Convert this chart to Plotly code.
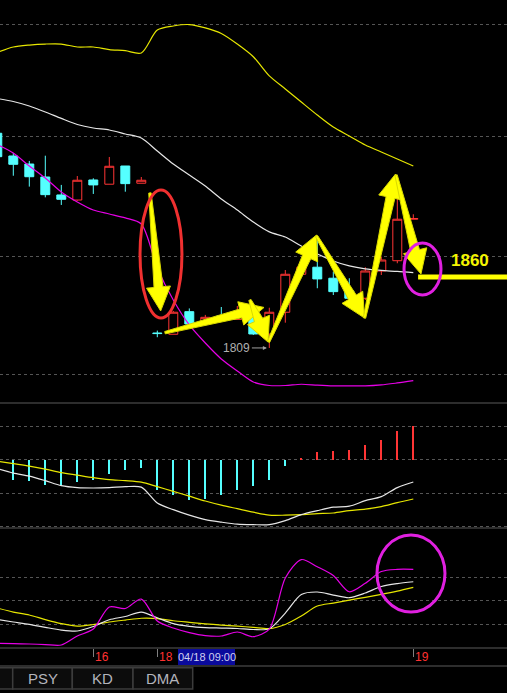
import math
import plotly.graph_objects as go

# bar number on the x axis (0 = partly hidden bar at the left edge)
idx = list(range(27))

opens = [1961.1, 1945.0, 1939.3, 1930.1, 1917.4, 1913.8, 1928.0, 1925.0, 1937.9, 1925.7,
         1819.6, 1818.7, 1834.7, 1827.4, 1831.7, 1829.2, 1833.6, 1818.9, 1834.3, 1861.2,
         1866.2, 1858.4, 1849.4, 1844.2, 1863.5, 1870.8, 1900.2]
highs = [1964.8, 1947.1, 1941.5, 1945.2, 1924.5, 1930.8, 1929.2, 1944.3, 1937.9, 1930.1,
         1821.3, 1835.2, 1837.0, 1832.4, 1838.0, 1838.7, 1835.9, 1837.5, 1864.2, 1868.5,
         1885.5, 1863.0, 1858.4, 1866.2, 1873.7, 1915.0, 1903.7]
lows = [1943.6, 1931.0, 1923.3, 1915.7, 1910.3, 1913.3, 1918.1, 1925.0, 1919.7, 1925.7,
        1816.6, 1818.7, 1825.3, 1827.1, 1828.1, 1829.2, 1818.2, 1809.0, 1826.9, 1861.2,
        1851.3, 1846.5, 1843.0, 1843.0, 1860.7, 1869.0, 1900.2]
closes = [1944.5, 1939.1, 1930.3, 1917.6, 1914.3, 1927.8, 1924.5, 1937.7, 1925.4, 1927.8,
          1819.2, 1834.3, 1826.0, 1830.7, 1829.2, 1833.8, 1818.9, 1834.3, 1861.2, 1866.2,
          1857.9, 1848.9, 1844.2, 1863.5, 1871.3, 1900.2, 1900.7]

# bollinger bands
boll_up = [2018.3, 2022.2, 2023.6, 2024.3, 2024.3, 2022.2, 2022.2, 2020.4, 2019.6, 2018.0,
           2034.2, 2037.1, 2038.1, 2035.7, 2031.8, 2024.3, 2015.3, 2001.7, 1992.5, 1983.2,
           1974.0, 1965.5, 1959.2, 1952.8, 1947.8, 1942.9, 1937.9]
boll_mid = [1985.7, 1983.6, 1980.4, 1976.2, 1971.6, 1967.3, 1964.8, 1963.4, 1960.6, 1957.7,
            1948.5, 1939.3, 1931.5, 1923.7, 1914.5, 1906.7, 1898.2, 1891.2, 1887.6, 1881.2,
            1875.6, 1870.6, 1867.1, 1865.0, 1863.9, 1863.2, 1862.3]
boll_low = [1953.1, 1947.1, 1937.9, 1929.4, 1919.5, 1912.4, 1906.7, 1903.9, 1901.1, 1896.8,
            1865.7, 1843.0, 1825.3, 1812.5, 1801.2, 1792.7, 1784.9, 1782.4, 1782.4, 1783.3,
            1782.6, 1782.1, 1782.1, 1782.1, 1782.8, 1784.2, 1785.8]

# MACD
macd_hist = [-6.5, -6.0, -6.5, -7.7, -8.0, -6.8, -6.0, -4.2, -3.2, -2.4,
             -9.0, -10.7, -12.0, -11.7, -10.7, -9.0, -8.0, -6.0, -2.0, 0.5,
             2.2, 2.7, 3.0, 4.5, 6.0, 8.7, 10.2]
dif = [-2.7, -4.05, -4.95, -6.3, -7.8, -8.4, -8.5, -8.4, -8.1, -8.25,
       -13.0, -15.0, -16.65, -18.0, -18.75, -19.35, -19.5, -19.5, -18.3, -16.5,
       -15.3, -14.25, -13.95, -12.3, -11.1, -8.4, -6.7]
dea = [-0.45, -1.2, -1.95, -2.85, -3.9, -4.65, -5.4, -6.0, -6.3, -6.75,
       -8.1, -9.5, -10.95, -12.4, -13.65, -14.7, -15.75, -16.65, -16.65, -16.5,
       -16.2, -16.0, -15.3, -14.85, -14.1, -12.9, -11.8]

# KDJ
kdj_k = [25.7, 22.6, 19.6, 15.8, 12.3, 11.1, 16.8, 25.4, 29.6, 35.3,
         28.0, 20.6, 17.1, 15.5, 14.9, 14.3, 13.0, 14.0, 34.0, 57.7,
         60.9, 57.0, 53.6, 59.6, 67.9, 71.7, 74.0]
kdj_d = [40.4, 35.3, 31.5, 25.7, 20.6, 17.4, 19.4, 22.6, 25.1, 27.4,
         27.0, 24.2, 22.2, 20.3, 18.7, 17.2, 15.8, 14.1, 19.4, 30.2,
         43.0, 46.8, 50.6, 54.1, 57.9, 62.1, 66.9]
kdj_j = [-4.5, -5.1, -5.5, -6.2, -6.8, 4.7, 13.6, 41.7, 39.8, 51.9,
         23.8, 14.9, 9.1, 5.3, 4.7, 9.8, 3.8, 13.6, 78.7, 102.3,
         93.1, 81.9, 61.2, 72.0, 87.0, 89.8, 89.8]

day_ticks = [6, 10, 26]
day_labels = ["16", "18", "19"]
cursor_label = "04/18 09:00"
tabs = ["PSY", "KD", "DMA"]

W, H = 507, 693
X_RANGE = [0.169, 31.856]
Y_RANGE = [1770, 2055.5]
MAIN_BOTTOM, MACD_BOTTOM, KDJ_BOTTOM, DATE_BOTTOM = 403, 528, 648, 666

RED = "#ff3535"
CYAN = "#55ffff"
YEL = "#e6e600"
WHT = "#e6e6e6"
MAG = "#e600e6"
GRID = "#555555"
SEP = "#3c3c3c"


def py(px_y):
    return 1 - px_y / H


SX = W / (X_RANGE[1] - X_RANGE[0])
SY = MAIN_BOTTOM / (Y_RANGE[1] - Y_RANGE[0])


def arrow_path(x0, p0, x1, p1, head_len=24, head_w=12, w0=1.2, w1=4.5):
    ax, ay, bx, by = x0 * SX, p0 * SY, x1 * SX, p1 * SY
    d = math.hypot(bx - ax, by - ay)
    ux, uy = (bx - ax) / d, (by - ay) / d
    nx, ny = -uy, ux
    cx, cy = bx - ux * head_len, by - uy * head_len
    pts = [(ax + nx * w0, ay + ny * w0), (cx + nx * w1, cy + ny * w1),
           (cx + nx * head_w, cy + ny * head_w), (bx, by),
           (cx - nx * head_w, cy - ny * head_w), (cx - nx * w1, cy - ny * w1),
           (ax - nx * w0, ay - ny * w0)]
    return "M " + " L ".join(f"{x / SX:.4f},{y / SY:.4f}" for x, y in pts) + " Z"


fig = go.Figure()

fig.add_trace(go.Candlestick(
    x=idx, open=opens, high=highs, low=lows, close=closes,
    increasing=dict(line=dict(color=RED, width=1), fillcolor="#000000"),
    decreasing=dict(line=dict(color=CYAN, width=1), fillcolor=CYAN),
    xaxis="x", yaxis="y", hoverinfo="skip"))
for vals, col in [(boll_up, YEL), (boll_mid, WHT), (boll_low, MAG)]:
    fig.add_trace(go.Scatter(x=idx, y=vals, mode="lines", xaxis="x", yaxis="y",
                             line=dict(color=col, width=1.2, shape="spline", smoothing=0.8)))

fig.add_trace(go.Bar(x=idx, y=macd_hist, width=0.09, xaxis="x2", yaxis="y2",
                     marker=dict(color=[RED if v > 0 else CYAN for v in macd_hist], line_width=0)))
for vals, col in [(dea, YEL), (dif, WHT)]:
    fig.add_trace(go.Scatter(x=idx, y=vals, mode="lines", xaxis="x2", yaxis="y2",
                             line=dict(color=col, width=1.2, shape="spline", smoothing=0.8)))

for vals, col in [(kdj_d, YEL), (kdj_k, WHT), (kdj_j, MAG)]:
    fig.add_trace(go.Scatter(x=idx, y=vals, mode="lines", xaxis="x3", yaxis="y3",
                             line=dict(color=col, width=1.2, shape="spline", smoothing=0.8)))

ax_common = dict(range=X_RANGE, showgrid=False, zeroline=False, showline=False,
                 showticklabels=False)
ay_common = dict(showgrid=True, gridcolor=GRID, griddash="dot", gridwidth=1,
                 zeroline=False, showline=False, showticklabels=False)

fig.update_layout(
    width=W, height=H, margin=dict(l=0, r=0, t=0, b=0),
    paper_bgcolor="#000000", plot_bgcolor="#000000", showlegend=False,
    boxgap=0.2, bargap=0,
    xaxis=dict(ax_common, anchor="y", rangeslider=dict(visible=False)),
    yaxis=dict(ay_common, domain=[py(MAIN_BOTTOM), 1], range=Y_RANGE,
               tickvals=[1790, 1873.5, 1959, 2038]),
    xaxis2=dict(ax_common, anchor="y2", matches="x"),
    yaxis2=dict(ay_common, domain=[py(MACD_BOTTOM), py(MAIN_BOTTOM)], range=[-20.5, 17],
                tickvals=[-20, -10, 0, 10]),
    xaxis3=dict(ax_common, anchor="y3", matches="x", ticks="outside", ticklen=8,
                tickcolor="#808080", tickwidth=1, tickvals=day_ticks),
    yaxis3=dict(ay_common, domain=[py(KDJ_BOTTOM), py(MACD_BOTTOM)], range=[-10.6, 142.6],
                tickvals=[20, 50, 80]),
)

shapes = []
for yy in [MAIN_BOTTOM, MACD_BOTTOM, KDJ_BOTTOM, DATE_BOTTOM]:
    shapes.append(dict(type="line", xref="paper", yref="paper", x0=0, x1=1,
                       y0=py(yy), y1=py(yy), line=dict(color=SEP, width=1.5)))

# hand drawn marks on the price panel
arrows = [
    (9.54, 1918.8, 10.21, 1835.2),
    (10.48, 1819.8, 16.67, 1837.7),
    (15.79, 1843.0, 16.92, 1813.2),
    (16.95, 1813.2, 19.95, 1889.0),
    (19.95, 1888.3, 22.95, 1830.2),
    (22.95, 1830.2, 24.89, 1932.2),
    (24.92, 1931.5, 26.48, 1861.4),
]
for a in arrows:
    shapes.append(dict(type="path", xref="x", yref="y", path=arrow_path(*a),
                       fillcolor="#ffff00", line=dict(color="#d8d800", width=1)))
shapes.append(dict(type="line", xref="x", yref="y", x0=26.3, x1=X_RANGE[1],
                   y0=1859.3, y1=1859.3, line=dict(color="#ffff00", width=5)))
shapes.append(dict(type="circle", xref="x", yref="y", x0=8.92, x1=11.54,
                   y0=1830.2, y1=1920.9, line=dict(color="#f03030", width=3)))
shapes.append(dict(type="circle", xref="x", yref="y", x0=25.42, x1=27.73,
                   y0=1846.5, y1=1883.4, line=dict(color="#e020e0", width=3)))
shapes.append(dict(type="circle", xref="x3", yref="y3", x0=23.73, x1=27.98,
                   y0=35.3, y1=133.6, line=dict(color="#e020e0", width=3)))

# bottom tab bar
tab_edges = [12.7, 72.3, 133.0, 192.7]
shapes.append(dict(type="rect", xref="paper", yref="paper", x0=-0.01, x1=tab_edges[0] / W,
                   y0=py(689), y1=py(667.7), fillcolor="#0c0c0c", line=dict(color=SEP, width=1.5)))
for i in range(3):
    shapes.append(dict(type="rect", xref="paper", yref="paper",
                       x0=tab_edges[i] / W, x1=tab_edges[i + 1] / W,
                       y0=py(689), y1=py(667.7), fillcolor="#0c0c0c",
                       line=dict(color=SEP, width=1.5)))
# cursor time box
shapes.append(dict(type="rect", xref="paper", yref="paper", x0=178 / W, x1=235 / W,
                   y0=py(665), y1=py(649), fillcolor="#0a0a9c", line_width=0))
fig.update_layout(shapes=shapes)

font = "Liberation Sans, Arial, sans-serif"
ann = []
ann.append(dict(x=29.54, y=1871.3, xref="x", yref="y", text="<b>1860</b>", showarrow=False,
                font=dict(family=font, size=17, color="#f5f500")))
ann.append(dict(x=16.85, y=1809.0, xref="x", yref="y", text="1809", showarrow=True,
                ax=-30, ay=0, arrowhead=2, arrowsize=0.8, arrowwidth=1, arrowcolor="#a0a0a0",
                font=dict(family=font, size=12, color="#b0b0b0")))
for t, lab in zip(day_ticks, day_labels):
    ann.append(dict(x=t, y=py(657), xref="x3", yref="paper", text=lab, showarrow=False,
                    xanchor="left", yanchor="middle", xshift=0,
                    font=dict(family=font, size=12, color="#ff3030")))
ann.append(dict(x=206.5 / W, y=py(657), xref="paper", yref="paper", text=cursor_label,
                showarrow=False, xanchor="center", yanchor="middle",
                font=dict(family=font, size=11, color="#d0d0f0")))
for i, lab in enumerate(tabs):
    ann.append(dict(x=(tab_edges[i] + tab_edges[i + 1]) / 2 / W, y=py(678.5),
                    xref="paper", yref="paper", text=lab, showarrow=False,
                    xanchor="center", yanchor="middle",
                    font=dict(family=font, size=15, color="#b4b4bc")))
fig.update_layout(annotations=ann)

fig.write_html("out.html", config={"displayModeBar": False},
               post_script="document.body.style.margin='0';")
